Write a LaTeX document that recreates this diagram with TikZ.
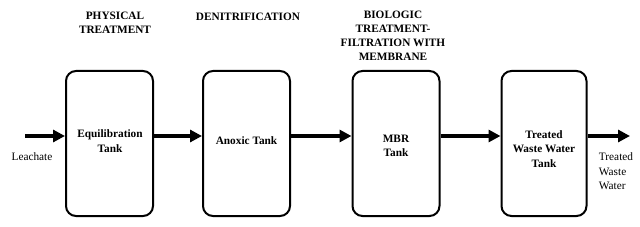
\documentclass[tikz,border=0pt]{standalone}
\usepackage{fontspec}
\setmainfont{Liberation Serif}
\usetikzlibrary{arrows.meta}

\tikzset{
  tank/.style={draw, line width=2pt, rounded corners=10pt, minimum width=87pt, minimum height=145pt},
  tanktext/.style={align=center, inner sep=0.75pt, font=\fontsize{11.3}{14.5}\selectfont\bfseries},
  flow/.style={line width=4pt, -{Triangle[length=12pt,width=12pt]}},
  stage/.style={align=center, inner sep=0.75pt, font=\fontsize{11.3}{14}\selectfont\bfseries},
  flowtext/.style={align=left, inner sep=0.75pt, font=\fontsize{11.3}{14.5}\selectfont}
}

\begin{document}
\begin{tikzpicture}[x=1pt,y=1pt,yscale=-1,xscale=1]
		\useasboundingbox (0,0) rectangle (640,227);
		
		%Tanks
		\node [tank] (equil) at (109.5,143.5) {};
		\node [tank] (anoxic) at (246.5,143.5) {};
		\node [tank] (mbr) at (396,143.5) {};
		\node [tank, minimum width=85pt] (treated) at (544,143.5) {};
		
		% Text Node
		\node [tanktext] (equiltext) at (110,141) {Equilibration\\Tank};
		% Text Node
		\node [tanktext] (anoxictext) at (246.5,141) {Anoxic Tank};
		% Text Node
		\node [tanktext] (mbrtext) at (396,146) {MBR\\Tank};
		% Text Node
		\node [tanktext] (treatedtext) at (544,149) {Treated\\Waste Water\\Tank};
		
		%Flow line
		\coordinate (flow) at (0,136);
		\coordinate (in) at (25,136);
		\coordinate (out) at (630,136);
		\draw [flow] (in) -- (in -| equil.west);
		\draw [flow] (equil.east |- flow) -- (anoxic.west |- flow);
		\draw [flow] (anoxic.east |- flow) -- (mbr.west |- flow);
		\draw [flow] (mbr.east |- flow) -- (treated.west |- flow);
		\draw [flow] (treated.east |- flow) -- (out);
		
		% Text Node
		\node [stage] (physical) at (115,22.5) {PHYSICAL\\TREATMENT};
		% Text Node
		\node [stage] (denitri) at (248,17) {DENITRIFICATION};
		% Text Node
		\node [stage] (biologic) at (393,35.5) {BIOLOGIC\\TREATMENT-\\FILTRATION WITH\\MEMBRANE};
		% Text Node
		\node [flowtext] (leachate) at (32,157) {Leachate};
		% Text Node
		\node [flowtext] (water) at (616,171.5) {Treated\\Waste\\Water};
	\end{tikzpicture}
\end{document}
